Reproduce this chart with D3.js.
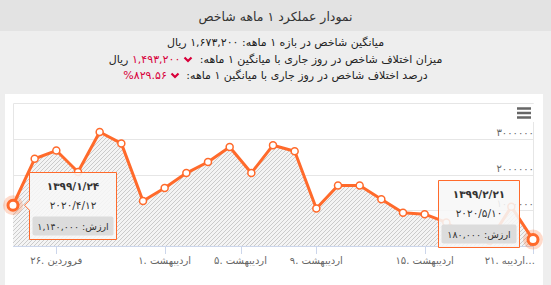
<!DOCTYPE html>
<html>
<head>
<meta charset="utf-8">
<script src="https://cdn.jsdelivr.net/npm/d3@7/dist/d3.min.js"></script>
<style>
body{margin:0;width:551px;height:285px;background:#eeeeee;overflow:hidden;font-family:"DejaVu Sans",sans-serif;position:relative}
.title{position:absolute;left:0;top:0;width:551px;height:31px;background:#e3e3e3;text-align:center;line-height:33px;font-size:12.5px;color:#333}
.info{position:absolute;left:0;top:35px;width:551px;text-align:center;font-size:11px;color:#222;line-height:16.5px;direction:rtl}
.red{color:#d8003a}
.chev{display:inline-block;vertical-align:middle;margin:0 3px}
#chart{position:absolute;left:0;top:0}
</style>
</head>
<body>
<div class="title">نمودار عملکرد ۱ ماهه شاخص</div>
<div class="info">
  <div>میانگین شاخص در بازه ۱ ماهه: <span id="avg"></span> ریال</div>
  <div>میزان اختلاف شاخص در روز جاری با میانگین ۱ ماهه: <span class="chev"></span><span class="red" id="diff"></span> ریال</div>
  <div>درصد اختلاف شاخص در روز جاری با میانگین ۱ ماهه: <span class="chev"></span><span class="red" id="pct"></span></div>
</div>
<svg id="chart" width="551" height="285"></svg>
<script>
// data
const shamsiDates = ['1399/1/24','1399/1/25','1399/1/26','1399/1/27','1399/1/28','1399/1/30','1399/1/31',
    '1399/2/1','1399/2/2','1399/2/3','1399/2/4','1399/2/6','1399/2/7','1399/2/8','1399/2/9','1399/2/10',
    '1399/2/11','1399/2/13','1399/2/14','1399/2/15','1399/2/16','1399/2/17','1399/2/18','1399/2/20','1399/2/21'];
const gregDates = ['2020/4/12','2020/4/13','2020/4/14','2020/4/15','2020/4/16','2020/4/18','2020/4/19',
    '2020/4/20','2020/4/21','2020/4/22','2020/4/23','2020/4/25','2020/4/26','2020/4/27','2020/4/28','2020/4/29',
    '2020/4/30','2020/5/2','2020/5/3','2020/5/4','2020/5/5','2020/5/6','2020/5/7','2020/5/9','2020/5/10'];
const values = [1140000, 2440000, 2670000, 2070000, 3190000, 2870000, 1260000, 1620000, 2040000, 2350000,
    2770000, 2040000, 2820000, 2650000, 1050000, 1690000, 1690000, 1310000, 930000, 890000,
    660000, 250000, 150000, 1100000, 180000];
const xTickPos = [2, 7, 10.5, 14, 19, 24];
const xTickLabels = ['26. فروردین', '1. اردیبهشت', '5. اردیبهشت', '9. اردیبهشت', '15. اردیبهشت', '21. اردیبه…'];
const yTicks = [1000000, 2000000, 3000000];
const shownTooltips = [0, 24];

const faDigits = '۰۱۲۳۴۵۶۷۸۹';
const toFa = s => String(s).replace(/[0-9]/g, d => faDigits[+d]);
const fmt = d3.format(',');

// header numbers
const avg = d3.sum(values) / values.length;
const last = values[values.length - 1];
d3.select('#avg').text(toFa(fmt(Math.round(avg))));
d3.select('#diff').text(toFa(fmt(Math.round(avg - last))));
d3.select('#pct').text(toFa(((avg - last) / last * 100).toFixed(2)) + '%');
d3.selectAll('.chev').append('svg')
    .attr('width', 10).attr('height', 7)
    .append('path')
    .attr('d', 'M1.5,1.5 L5,5 L8.5,1.5')
    .attr('fill', 'none').attr('stroke', '#d8003a').attr('stroke-width', 2.2);

const orange = '#ff6a2b';
const svg = d3.select('#chart');

const plot = {left: 13, right: 533, top: 103, bottom: 246};

// card
svg.append('rect')
    .attr('x', 5).attr('y', 94)
    .attr('width', 538).attr('height', 200)
    .attr('fill', '#fff');

const x = d3.scaleLinear().domain([0, values.length - 1]).range([plot.left, plot.right]);
const y = d3.scaleLinear().domain([0, 4000000]).range([plot.bottom, plot.top]);

// hatch pattern
const defs = svg.append('defs');
const pat = defs.append('pattern')
    .attr('id', 'hatch').attr('patternUnits', 'userSpaceOnUse')
    .attr('width', 4).attr('height', 4);
pat.append('rect').attr('width', 4).attr('height', 4).attr('fill', '#f4f4f4');
pat.append('path')
    .attr('d', 'M-1,1 L1,-1 M0,4 L4,0 M3,5 L5,3')
    .attr('stroke', '#cbcbcb').attr('stroke-width', 1);

// plot border
svg.append('path')
    .attr('d', `M${plot.left + 0.5},${plot.bottom} V${plot.top + 0.5} H${plot.right + 0.5} V${plot.bottom}`)
    .attr('fill', 'none').attr('stroke', '#e6e6e6');

// grid
svg.append('g').selectAll('line').data(yTicks).join('line')
    .attr('x1', plot.left).attr('x2', plot.right)
    .attr('y1', d => Math.round(y(d)) + 0.5).attr('y2', d => Math.round(y(d)) + 0.5)
    .attr('stroke', '#e6e6e6');

// area + line
const area = d3.area().x((d, i) => x(i)).y0(y(0)).y1(d => y(d));
const line = d3.line().x((d, i) => x(i)).y(d => y(d));
svg.append('path').datum(values).attr('d', area).attr('fill', 'url(#hatch)');
svg.append('path').datum(values).attr('d', line)
    .attr('fill', 'none').attr('stroke', orange).attr('stroke-width', 3)
    .attr('stroke-linejoin', 'round');

// x axis
svg.append('line')
    .attr('x1', plot.left).attr('x2', plot.right + 1)
    .attr('y1', plot.bottom + 0.5).attr('y2', plot.bottom + 0.5)
    .attr('stroke', '#ccd6eb');
const xt = svg.append('g').selectAll('g').data(xTickPos).join('g');
xt.append('line')
    .attr('x1', d => Math.round(x(d)) + 0.5).attr('x2', d => Math.round(x(d)) + 0.5)
    .attr('y1', plot.bottom).attr('y2', plot.bottom + 8)
    .attr('stroke', '#ccd6eb');
xt.append('text')
    .attr('x', (d, i) => i === xTickPos.length - 1 ? x(d) + 2 : x(d))
    .attr('y', plot.bottom + 18)
    .attr('text-anchor', (d, i) => i === xTickPos.length - 1 ? 'end' : 'middle')
    .attr('font-size', 10).attr('fill', '#666')
    .text((d, i) => toFa(xTickLabels[i]));

// y labels (right side, above grid line)
svg.append('g').selectAll('text').data(yTicks).join('text')
    .attr('x', plot.right + 1).attr('y', d => y(d) - 3)
    .attr('text-anchor', 'end')
    .attr('font-size', 10).attr('fill', '#666')
    .text(d => toFa(d));

// markers
svg.append('g').selectAll('circle').data(values).join('circle')
    .attr('cx', (d, i) => x(i)).attr('cy', d => y(d))
    .attr('r', 3.5)
    .attr('fill', '#fff').attr('stroke', orange).attr('stroke-width', 1.5);

// hovered markers
const hov = svg.append('g').selectAll('g').data(shownTooltips).join('g');
hov.append('circle')
    .attr('cx', d => x(d)).attr('cy', d => y(values[d]))
    .attr('r', 10).attr('fill', orange).attr('fill-opacity', 0.25);
hov.append('circle')
    .attr('cx', d => x(d)).attr('cy', d => y(values[d]))
    .attr('r', 5).attr('fill', '#fff').attr('stroke', orange).attr('stroke-width', 3);

// hamburger menu
const menu = svg.append('g');
menu.append('rect').attr('x', 512).attr('y', 104).attr('width', 24).attr('height', 18).attr('fill', '#fff');
menu.selectAll('line').data([0, 1, 2]).join('line')
    .attr('x1', 517).attr('x2', 531)
    .attr('y1', d => 108.5 + d * 4.5).attr('y2', d => 108.5 + d * 4.5)
    .attr('stroke', '#666').attr('stroke-width', 2.5);

// tooltips
const tipLayout = [{dx: 16, dy: -33, w: 87, arrow: true}, {dx: -95, dy: -60, w: 81, arrow: false}];
shownTooltips.forEach((idx, k) => {
    const px = x(idx), py = y(values[idx]);
    const L = tipLayout[k];
    const bx = Math.round(px + L.dx) + 0.5, by = Math.round(py + L.dy) + 0.5, h = 67;
    const g = svg.append('g');
    let d = `M${bx},${by} H${bx + L.w} V${by + h} H${bx}`;
    if (L.arrow) d += ` V${py + 5} L${bx - 5},${py} L${bx},${py - 5}`;
    d += ' Z';
    g.append('path').attr('d', d)
        .attr('fill', '#f7f7f7').attr('fill-opacity', 0.88)
        .attr('stroke', orange).attr('stroke-width', 1);
    const cx = bx + L.w / 2;
    g.append('text').attr('x', cx).attr('y', by + 17)
        .attr('text-anchor', 'middle').attr('font-size', 10.5).attr('font-weight', 'bold').attr('fill', '#333')
        .text(toFa(shamsiDates[idx]));
    g.append('text').attr('x', cx).attr('y', by + 36)
        .attr('text-anchor', 'middle').attr('font-size', 10.5).attr('fill', '#333')
        .text(toFa(gregDates[idx]));
    g.append('rect')
        .attr('x', bx + 3).attr('y', by + 44)
        .attr('width', L.w - 6).attr('height', 19).attr('rx', 2)
        .attr('fill', '#dcdcdc');
    g.append('text').attr('x', cx).attr('y', by + 57.5)
        .attr('text-anchor', 'middle').attr('font-size', 9.5).attr('fill', '#333')
        .text('ارزش: ' + toFa(fmt(values[idx])));
});
</script>
</body>
</html>
